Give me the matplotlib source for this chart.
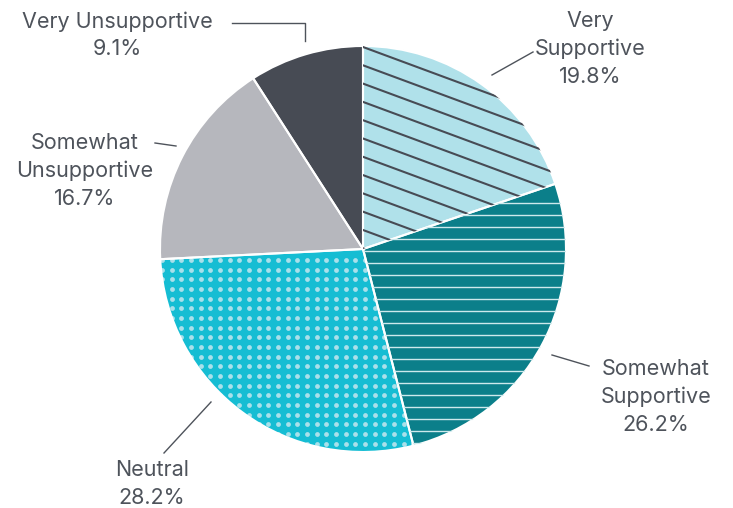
import matplotlib.pyplot as plt
import numpy as np

# survey shares, clockwise from 12 o'clock
labels = ['Very\nSupportive', 'Somewhat\nSupportive', 'Neutral',
          'Somewhat\nUnsupportive', 'Very Unsupportive']
shares = [19.8, 26.2, 28.2, 16.7, 9.1]
colors = ['#B0E1EA', '#0B7F8A', '#15BDD3', '#B6B7BD', '#474B54']

W, H = 733, 508
cx, cy, r = 363, H - 249, 203
txt = '#4E535B'

plt.rcParams['font.family'] = ['Inter', 'DejaVu Sans']

fig = plt.figure(figsize=(W / 100, H / 100), dpi=100)
ax = fig.add_axes([0, 0, 1, 1])

wedges, _ = ax.pie(shares, colors=colors, startangle=90, counterclock=False,
                   center=(cx, cy), radius=r,
                   wedgeprops=dict(linewidth=0))

# diagonal lines on "very supportive"
xs = np.array([cx - 10, cx + r + 10])
for y0 in np.arange(H - 47, H - 260, -18.3):
    ln, = ax.plot(xs, y0 - 0.37 * (xs - cx), color='#474B54', lw=1.5)
    ln.set_clip_path(wedges[0])

# horizontal lines on "somewhat supportive"
for y0 in np.arange(H - 202.7, H - 460, -12):
    ln, = ax.plot([cx - 10, cx + r + 10], [y0, y0], color='#CDE9EC', lw=1.0)
    ln.set_clip_path(wedges[1])

# dot grid on "neutral"
gx, gy = np.meshgrid(np.arange(171.7 - 9.67, cx + 80, 9.67),
                     np.arange(H - 260, H - 460, -9.67))
dots = ax.scatter(gx.ravel(), gy.ravel(), s=12, color='#A9E0EA', linewidths=0)
dots.set_clip_path(wedges[2])

# white separators on top of the patterns
ax.pie(shares, startangle=90, counterclock=False, center=(cx, cy), radius=r,
       wedgeprops=dict(facecolor='none', edgecolor='white', linewidth=1.5))

# labels and leader lines
pos = [(590, 49), (656, 397), (152, 484), (85, 171), (117, 35)]
leaders = [
    [(492, 75), (533, 52)],
    [(552, 355), (589, 366)],
    [(211, 402), (164, 453)],
    [(155, 143), (176, 146)],
    [(232, 23), (305, 23), (305, 41)],
]
for lab, v, (x, y), pts in zip(labels, shares, pos, leaders):
    ax.text(x, H - y, f'{lab}\n{v}%', ha='center', va='center',
            multialignment='center', fontsize=15.5, color=txt, linespacing=1.45)
    px, py = zip(*pts)
    ax.plot(px, [H - p for p in py], color=txt, lw=1.0)

ax.set_xlim(0, W)
ax.set_ylim(0, H)
ax.set_aspect('auto')
ax.axis('off')

fig.savefig('out.png', dpi=100)
